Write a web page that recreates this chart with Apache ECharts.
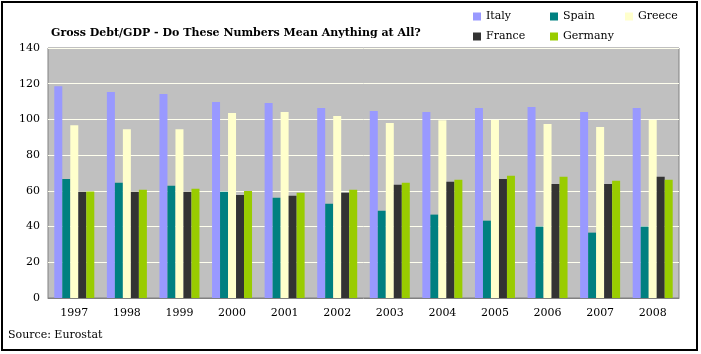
<!DOCTYPE html>
<html>
<head>
<meta charset="utf-8">
<script src="https://cdn.jsdelivr.net/npm/echarts@6/dist/echarts.min.js"></script>
<style>
  html, body { margin: 0; padding: 0; background: #fff; }
  #chart { width: 701px; height: 354px; }
</style>
</head>
<body>
<div id="chart"></div>
<script>
// years on the x axis
var years = ['1997', '1998', '1999', '2000', '2001', '2002', '2003', '2004', '2005', '2006', '2007', '2008'];
// gross debt as % of GDP
var italy   = [118.6, 115.3, 114.2, 109.7, 109.2, 106.4, 104.7, 104.1, 106.4, 106.9, 104.1, 106.4];
var spain   = [66.7, 64.5, 62.8, 59.5, 56.1, 52.8, 48.9, 46.7, 43.3, 40.0, 36.6, 40.0];
var greece  = [96.7, 94.5, 94.5, 103.6, 104.1, 101.9, 98.0, 99.5, 99.7, 97.4, 95.8, 99.7];
var france  = [59.5, 59.5, 59.5, 57.7, 57.3, 58.9, 63.4, 65.1, 66.7, 63.9, 63.9, 67.9];
var germany = [59.7, 60.6, 61.2, 59.9, 58.9, 60.6, 64.5, 66.2, 68.4, 67.9, 65.6, 66.2];

var serif = 'DejaVu Serif';

var chart = echarts.init(document.getElementById('chart'));

function bar(name, data, color) {
  return {
    name: name,
    type: 'bar',
    data: data,
    barWidth: 8,
    barGap: '0%',
    itemStyle: { color: color },
    animation: false
  };
}

// one legend box per entry so the columns line up like the original
function legendAt(name, x, y) {
  return {
    data: [name],
    left: x, top: y,
    itemWidth: 8, itemHeight: 8,
    icon: 'rect',
    textStyle: { fontFamily: serif, fontSize: 11, color: '#000' }
  };
}

var option = {
  title: {
    text: 'Gross Debt/GDP - Do These Numbers Mean Anything at All?',
    left: 46,
    top: 23,
    textStyle: { fontFamily: serif, fontSize: 11, fontWeight: 'bold', color: '#000' }
  },
  legend: [
    legendAt('Italy', 468, 6),
    legendAt('Spain', 545, 6),
    legendAt('Greece', 620, 6),
    legendAt('France', 468, 26),
    legendAt('Germany', 545, 26)
  ],
  grid: {
    left: 48, right: 22, top: 48, bottom: 56,
    show: true,
    backgroundColor: '#C0C0C0',
    borderColor: '#808080',
    borderWidth: 1
  },
  xAxis: {
    type: 'category',
    data: years,
    axisTick: { show: false },
    axisLine: { lineStyle: { color: '#808080' } },
    axisLabel: { fontFamily: serif, fontSize: 11, color: '#000', margin: 10 }
  },
  yAxis: {
    type: 'value',
    min: 0, max: 140, interval: 20,
    axisLine: { show: false },
    axisTick: { show: false },
    splitLine: { lineStyle: { color: '#FFFFEE', width: 1 } },
    axisLabel: { fontFamily: serif, fontSize: 11, color: '#000', margin: 8 }
  },
  graphic: [
    {
      type: 'rect',
      shape: { x: 2, y: 2, width: 695, height: 348 },
      style: { fill: 'none', stroke: '#000', lineWidth: 2 },
      silent: true
    },
    {
      type: 'text',
      left: 8, top: 330,
      style: { text: 'Source: Eurostat', fontFamily: serif, fontSize: 11, fill: '#000' }
    }
  ],
  series: [
    bar('Italy', italy, '#9999FF'),
    bar('Spain', spain, '#008080'),
    bar('Greece', greece, '#FFFFCC'),
    bar('France', france, '#333333'),
    bar('Germany', germany, '#99CC00')
  ]
};

chart.setOption(option);
</script>
</body>
</html>
